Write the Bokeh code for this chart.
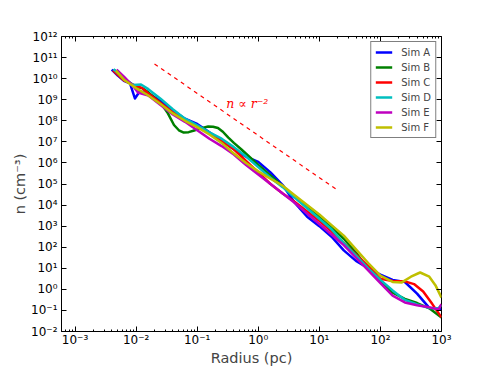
import numpy as np
from bokeh.plotting import figure
from bokeh.models import (Range1d, FixedTicker, LogAxis, CustomJSTickFormatter, Label)
from bokeh.embed import file_html
from bokeh.resources import INLINE

# ---------------- data (log10 radius [pc], log10 n [cm^-3]) ----------------
series_names = ["Sim A", "Sim B", "Sim C", "Sim D", "Sim E", "Sim F"]
series_colors = ["#0000ff", "#008000", "#ff0000", "#00bfbf", "#bf00bf", "#bfbf00"]

simA_logr = [-2.40, -2.30, -2.20, -2.10, -2.02, -1.94, -1.80, -1.60, -1.40, -1.20, -1.00, -0.80,
             -0.60, -0.40, -0.20, 0.00, 0.20, 0.40, 0.60, 0.80, 1.00, 1.20, 1.40, 1.60, 1.80,
             2.00, 2.20, 2.40, 2.60, 2.80, 3.00]
simA_logn = [10.43, 10.15, 9.90, 9.78, 9.06, 9.40, 9.30, 8.95, 8.50, 8.10, 7.85, 7.45,
             7.05, 6.65, 6.30, 6.05, 5.55, 4.95, 4.10, 3.45, 3.00, 2.50, 1.85, 1.35, 1.00,
             0.70, 0.45, 0.35, -0.20, -0.88, -0.92]

simB_logr = [-2.35, -2.20, -2.00, -1.90, -1.80, -1.59, -1.48, -1.38, -1.30, -1.22, -1.14, -1.05,
             -0.93, -0.82, -0.74, -0.66, -0.58, -0.49, -0.40, -0.28, 0.00, 0.20, 0.40, 0.60,
             0.80, 1.00, 1.20, 1.40, 1.60, 1.80, 2.00, 2.20, 2.40, 2.60, 2.80, 3.00]
simB_logn = [10.40, 10.00, 9.60, 9.55, 9.35, 8.82, 8.35, 7.80, 7.55, 7.44, 7.46, 7.54,
             7.65, 7.73, 7.72, 7.66, 7.48, 7.20, 6.95, 6.65, 5.90, 5.40, 4.90, 4.40,
             3.90, 3.45, 2.95, 2.40, 1.75, 0.95, 0.40, -0.15, -0.45, -0.65, -0.90, -1.33]

simC_logr = [-2.38, -2.20, -2.05, -1.90, -1.80, -1.60, -1.40, -1.20, -1.00, -0.80, -0.60, -0.40,
             -0.20, 0.00, 0.20, 0.40, 0.60, 0.80, 1.00, 1.20, 1.40, 1.60, 1.80, 2.00, 2.20,
             2.40, 2.55, 2.70, 2.85, 3.00]
simC_logn = [10.40, 9.92, 9.72, 9.55, 9.30, 8.85, 8.40, 8.05, 7.75, 7.40, 7.05, 6.65,
             6.10, 5.55, 5.00, 4.55, 4.15, 3.70, 3.25, 2.75, 2.20, 1.65, 1.10, 0.50, 0.40,
             0.38, 0.25, -0.10, -0.70, -1.33]

simD_logr = [-2.37, -2.20, -2.05, -1.92, -1.80, -1.60, -1.40, -1.20, -1.00, -0.80, -0.60, -0.40,
             -0.20, 0.00, 0.20, 0.40, 0.60, 0.80, 1.00, 1.20, 1.40, 1.60, 1.80, 2.00, 2.20,
             2.40, 2.60, 2.80, 2.95, 3.00]
simD_logn = [10.45, 10.00, 9.70, 9.72, 9.50, 9.05, 8.55, 8.10, 7.78, 7.45, 7.15, 6.75,
             6.30, 5.80, 5.30, 4.85, 4.35, 3.85, 3.35, 2.85, 2.20, 1.60, 1.00, 0.45, -0.05,
             -0.50, -0.72, -0.88, -0.90, -0.75]

simE_logr = [-2.32, -2.20, -2.05, -1.97, -1.80, -1.60, -1.40, -1.20, -1.00, -0.80, -0.60, -0.40,
             -0.20, 0.00, 0.20, 0.40, 0.60, 0.80, 1.00, 1.20, 1.40, 1.60, 1.80, 2.00, 2.20,
             2.40, 2.60, 2.80, 2.95, 3.00]
simE_logn = [10.43, 10.10, 9.65, 9.34, 9.20, 8.75, 8.30, 7.95, 7.55, 7.15, 6.80, 6.40,
             5.90, 5.45, 5.00, 4.55, 4.10, 3.60, 3.10, 2.60, 2.10, 1.50, 0.90, 0.30, -0.30,
             -0.62, -0.75, -0.85, -0.95, -0.70]

simF_logr = [-2.33, -2.20, -2.00, -1.80, -1.60, -1.40, -1.20, -1.00, -0.80, -0.60, -0.40, -0.20,
             0.00, 0.20, 0.40, 0.60, 0.80, 1.00, 1.20, 1.40, 1.60, 1.80, 2.00, 2.20, 2.35,
             2.50, 2.65, 2.80, 2.90, 3.00]
simF_logn = [10.38, 9.95, 9.55, 9.20, 8.80, 8.35, 8.00, 7.70, 7.35, 6.95, 6.45, 6.00,
             5.60, 5.25, 4.92, 4.45, 4.00, 3.55, 3.05, 2.55, 1.90, 1.25, 0.65, 0.35, 0.33,
             0.60, 0.80, 0.60, 0.20, -0.39]

all_logr = [simA_logr, simB_logr, simC_logr, simD_logr, simE_logr, simF_logr]
all_logn = [simA_logn, simB_logn, simC_logn, simD_logn, simE_logn, simF_logn]

# reference power law n ∝ r^-2
ref_r = [0.02, 20.0]
ref_norm = 2e7
ref_label = "n ∝ r⁻²"
ref_label_x = 0.30
ref_label_y = 10 ** 8.8

x_lim = (6e-4, 1e3)
y_lim = (1e-2, 1e12)
x_major = [1e-3, 1e-2, 1e-1, 1e0, 1e1, 1e2, 1e3]
y_major = [10.0 ** e for e in range(-2, 13)]
x_minor = [m * 10.0 ** e for e in range(-4, 3) for m in range(2, 10) if 6e-4 <= m * 10.0 ** e <= 1e3]

FONT = "DejaVu Sans"

p = figure(x_axis_type="log", y_axis_type="log",
           x_range=Range1d(*x_lim), y_range=Range1d(*y_lim),
           frame_width=380, frame_height=295,
           min_border_left=61, min_border_top=36, min_border_right=42, min_border_bottom=5,
           output_backend="svg", toolbar_location=None)
p.grid.visible = False
p.outline_line_color = "black"
p.outline_line_width = 1
p.background_fill_color = "white"
p.border_fill_color = "white"

fmt = CustomJSTickFormatter(code="""
const sup = {'-':'\u207b','0':'\u2070','1':'\u00b9','2':'\u00b2','3':'\u00b3','4':'\u2074',
             '5':'\u2075','6':'\u2076','7':'\u2077','8':'\u2078','9':'\u2079'};
const e = Math.round(Math.log10(tick));
return '10' + String(e).split('').map(c => sup[c]).join('');
""")
blank_fmt = CustomJSTickFormatter(code="return '';")

xt = FixedTicker(ticks=x_major, minor_ticks=x_minor)
yt = FixedTicker(ticks=y_major, minor_ticks=[])

def style_axis(ax, standoff):
    ax.axis_line_color = None
    ax.major_tick_in = 5
    ax.major_tick_out = 0
    ax.minor_tick_in = 2
    ax.minor_tick_out = 0
    ax.major_tick_line_color = "black"
    ax.minor_tick_line_color = "black"
    ax.major_label_text_font = FONT
    ax.major_label_text_color = "black"
    ax.major_label_text_font_size = "12px"
    ax.major_label_standoff = standoff

xa = p.xaxis[0]
xa.ticker = xt
xa.formatter = fmt
style_axis(xa, 1)
xa.axis_label = "Radius (pc)"
xa.axis_label_text_font = FONT
xa.axis_label_text_font_size = "14.5px"
xa.axis_label_text_font_style = "normal"
xa.axis_label_standoff = 0

ya = p.yaxis[0]
ya.ticker = yt
ya.formatter = fmt
style_axis(ya, 4)
ya.axis_label = "n (cm⁻³)"
ya.axis_label_text_font = FONT
ya.axis_label_text_font_size = "14.5px"
ya.axis_label_text_font_style = "normal"
ya.axis_label_standoff = 0

top = LogAxis(ticker=xt, formatter=blank_fmt)
style_axis(top, 0)
p.add_layout(top, "above")
right = LogAxis(ticker=yt, formatter=blank_fmt)
style_axis(right, 0)
p.add_layout(right, "right")

for name, color, lr, ln in zip(series_names, series_colors, all_logr, all_logn):
    p.line(10.0 ** np.array(lr), 10.0 ** np.array(ln), line_color=color, line_width=2.5,
           line_join="round", legend_label=name)

ref_x = np.array(ref_r)
p.line(ref_x, ref_norm * ref_x ** -2, line_color="red", line_dash="4 4", line_width=1.2)
p.add_layout(Label(x=ref_label_x, y=ref_label_y, text=ref_label, text_color="red",
                   text_font="DejaVu Serif", text_font_style="italic", text_font_size="12.5px",
                   text_baseline="middle", text_align="left"))

lg = p.legend[0]
lg.location = "top_right"
lg.margin = 5
lg.padding = 4
lg.spacing = 3
lg.label_height = 12
lg.glyph_height = 12
lg.glyph_width = 17
lg.label_standoff = 9
lg.label_text_font = FONT
lg.label_text_font_size = "10px"
lg.border_line_color = "black"
lg.border_line_width = 1
lg.background_fill_alpha = 1.0

open("out.html", "w").write(file_html(p, INLINE))
